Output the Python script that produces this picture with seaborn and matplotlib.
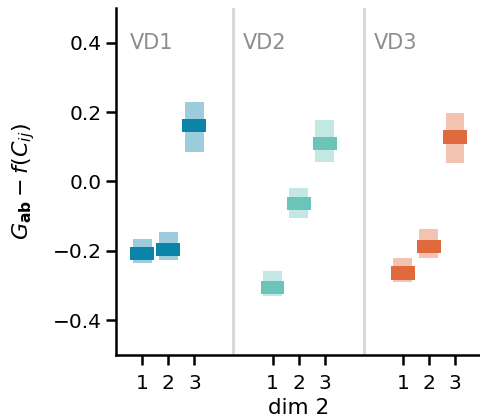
import numpy as np
import matplotlib
matplotlib.use("Agg")
import matplotlib.pyplot as plt
import seaborn as sns

groups = ["VD1", "VD2", "VD3"]
dims = [1, 2, 3]
means = {
    "VD1": [-0.207, -0.197, 0.162],
    "VD2": [-0.306, -0.063, 0.109],
    "VD3": [-0.264, -0.188, 0.128],
}
ci_low = {
    "VD1": [-0.236, -0.227, 0.086],
    "VD2": [-0.330, -0.105, 0.056],
    "VD3": [-0.289, -0.222, 0.054],
}
ci_high = {
    "VD1": [-0.167, -0.146, 0.229],
    "VD2": [-0.258, -0.018, 0.178],
    "VD3": [-0.220, -0.136, 0.198],
}
label_x = [0.52, 4.85, 9.9]
colors = {"VD1": "#0a84a8", "VD2": "#6ac4b9", "VD3": "#e0693d"}

sns.set_style("ticks", {"axes.edgecolor": "black", "xtick.color": "black",
                        "ytick.color": "black", "text.color": "black",
                        "axes.labelcolor": "black"})
plt.rcParams["font.family"] = ["DejaVu Sans"]

fig = plt.figure(figsize=(4.8, 4.19), dpi=100)
ax = fig.add_axes([0.242, 0.153, 0.76, 0.828])

group_gap = 5
mean_h = 0.038
for gi, g in enumerate(groups):
    xs = np.array(dims) + gi * group_gap
    lo = np.array(ci_low[g])
    hi = np.array(ci_high[g])
    mu = np.array(means[g])
    ax.bar(xs, hi - lo, bottom=lo, width=0.72, color=colors[g], alpha=0.4,
           linewidth=0)
    ax.bar(xs, np.full(len(xs), mean_h), bottom=mu - mean_h / 2, width=0.92,
           color=colors[g], linewidth=0)
    ax.text(label_x[gi], 0.4, g, color="#8c8c8c", fontsize=15,
            ha="left", va="center")
    if gi > 0:
        ax.axvline(gi * group_gap - 0.5, color="#d9d9d9", lw=2.2, zorder=0)

ticks = [d + gi * group_gap for gi in range(len(groups)) for d in dims]
ax.set_xticks(ticks)
ax.set_xticklabels([str(d) for gi in range(len(groups)) for d in dims])
ax.set_xlim(0, 14)
ax.set_ylim(-0.5, 0.5)
ax.set_yticks([-0.4, -0.2, 0.0, 0.2, 0.4])
ax.set_yticklabels(["\u22120.4", "\u22120.2", "0.0", "0.2", "0.4"])
ax.tick_params(labelsize=14.5, width=1.8, length=7, colors="black")
ax.tick_params(axis="x", pad=7)
for s in ["left", "bottom"]:
    ax.spines[s].set_linewidth(1.8)
sns.despine(ax=ax)
ax.set_xlabel("dim 2", fontsize=15.5, labelpad=3)
ax.set_ylabel(r"$G_{\mathbf{ab}} - f(C_{ij})$", fontsize=16, labelpad=11)

fig.savefig("out.png", dpi=100)
